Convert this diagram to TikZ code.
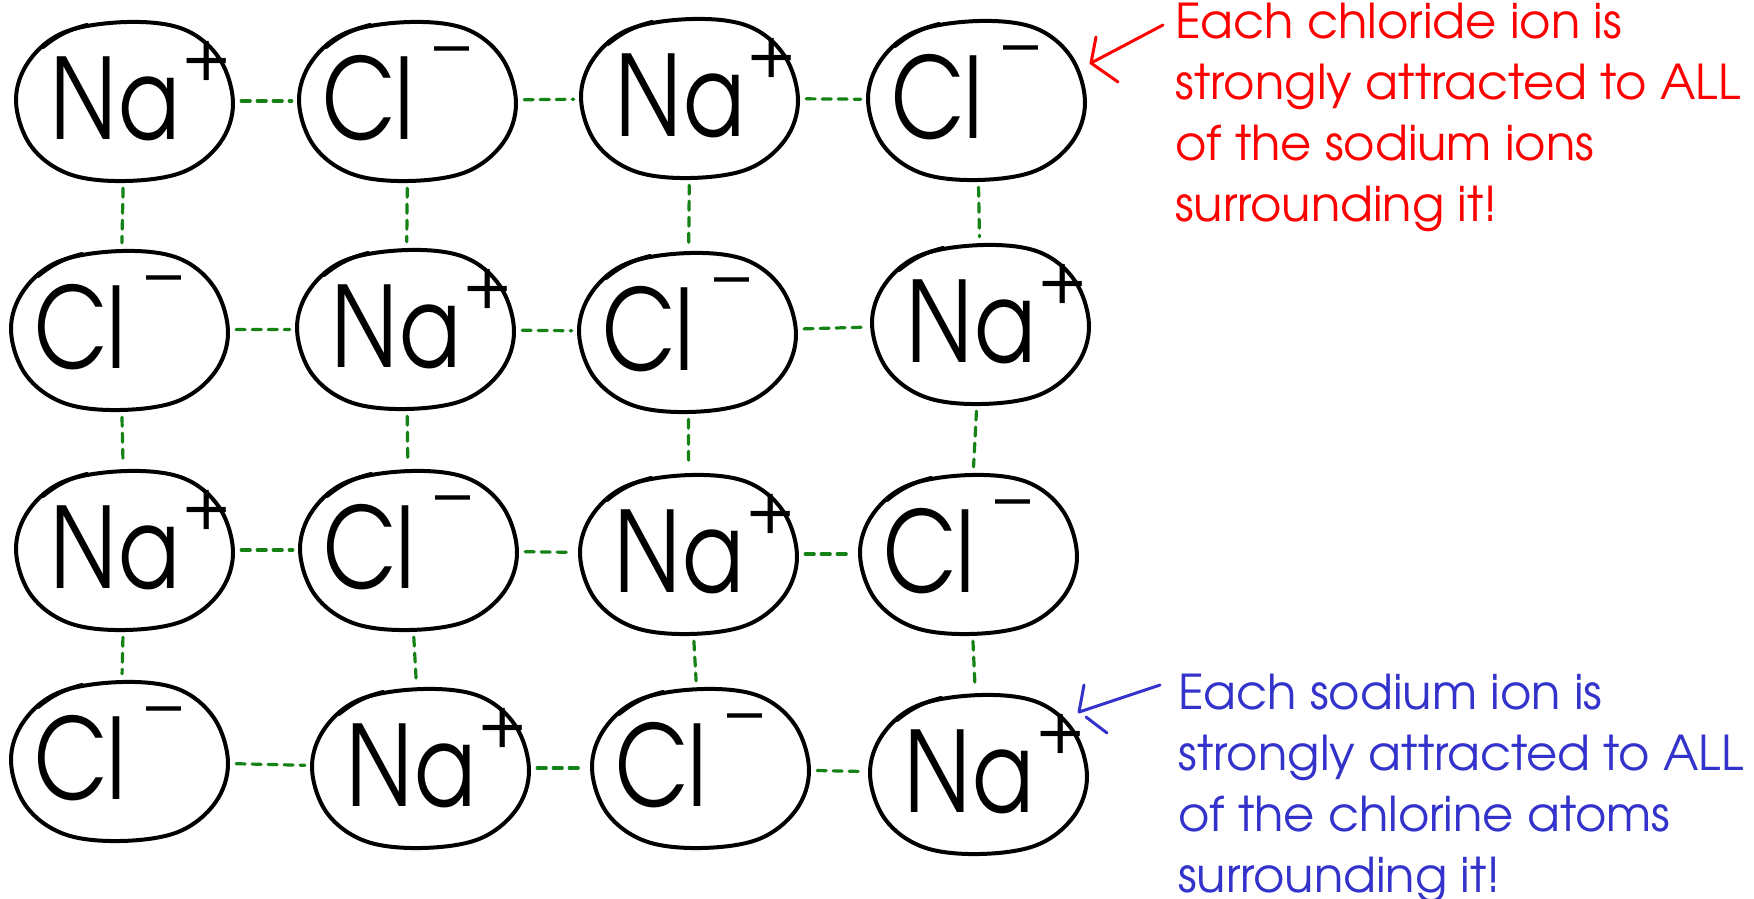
\documentclass[tikz,border=0pt]{standalone}
\usepackage{graphicx}
\usepackage{fontspec}
\usetikzlibrary{shapes.geometric,calc}
\newfontfamily\adv{TeX Gyre Adventor}
\definecolor{bondgreen}{RGB}{20,130,20}
\definecolor{noteblue}{RGB}{51,51,204}
\definecolor{notered}{RGB}{255,0,0}
\tikzset{
 ion/.style={ellipse, draw=none, minimum width=218pt, minimum height=160pt, inner sep=0pt},
 blob/.style={draw=black, line width=4pt, line join=round},
 sym/.style={font=\adv\fontsize{112}{112}\selectfont, inner sep=0pt},
 chg/.style={font=\adv\fontsize{70}{70}\selectfont, inner sep=0pt},
 bond/.style={draw=bondgreen, line width=3.2pt, dash pattern=on 9pt off 7pt, line cap=round, shorten >=7pt, shorten <=7pt},
 note/.style={font=\adv\fontsize{48}{61}\selectfont, align=left, anchor=north west, inner sep=0pt},
 hook/.style={line width=4pt, line cap=round},
 pointer/.style={line width=3pt, line cap=round, line join=round},
}
\newcommand\blobat[1]{%
  \draw[blob, shift={(#1.center)}] plot[smooth cycle, tension=0.6] coordinates
   {(108,2) (95,42) (58,71) (0,80) (-56,73) (-94,45) (-109,0) (-96,-40) (-60,-69) (2,-79) (58,-72) (94,-43)};
  \draw[hook, shift={(#1.center)}] (-82,-54) to[bend left=12] (-38,-76);}
\newcommand\naion[3]{%
  \node[ion] (#1) at (#2,#3) {};
  \blobat{#1}
  \node[sym] (#1n) at ($(#1)+(-10,-2)$) {\scalebox{0.8}[1]{Na}};
  \node[chg] (#1p) at ($(#1)+(82,-40)$) {+};}
\newcommand\clion[3]{%
  \node[ion] (#1) at (#2,#3) {};
  \blobat{#1}
  \node[sym] (#1n) at ($(#1)+(-40,-3)$) {\scalebox{0.8}[1]{Cl}};
  \node[chg] (#1p) at ($(#1)+(44,-44)$) {–};}
\begin{document}
\begin{tikzpicture}[x=1pt,y=-1pt]
\fill[white] (0,0) rectangle (1754,898);
\useasboundingbox (0,0) rectangle (1754,898);
% row 1
\naion{n11}{125}{101}
\clion{n12}{408}{101}
\naion{n13}{690}{98}
\clion{n14}{977}{100}
% row 2
\clion{n21}{120}{330}
\naion{n22}{406}{329}
\clion{n23}{688}{332}
\naion{n24}{981}{324}
% row 3
\naion{n31}{125}{550}
\clion{n32}{409}{550}
\naion{n33}{689}{554}
\clion{n34}{969}{554}
% row 4
\clion{n41}{120}{761}
\naion{n42}{421}{768}
\clion{n43}{701}{768}
\naion{n44}{979}{774}
% horizontal bonds
\foreach \r in {1,2,3,4}{
  \draw[bond] (n\r1) -- (n\r2);
  \draw[bond] (n\r2) -- (n\r3);
  \draw[bond] (n\r3) -- (n\r4);}
% vertical bonds
\foreach \c in {1,2,3,4}{
  \draw[bond] (n1\c) -- (n2\c);
  \draw[bond] (n2\c) -- (n3\c);
  \draw[bond] (n3\c) -- (n4\c);}
% red annotation
\coordinate (rs) at (1163,25);
\coordinate (rt) at (1091,63);
\coordinate (rb1) at (1096,37);
\coordinate (rb2) at (1118,82);
\draw[pointer, draw=notered] (rs) -- (rt);
\draw[pointer, draw=notered] (rb1) -- (rt) -- (rb2);
\node[note, text=notered] (rednote) at (1175,3) {Each chloride ion is\\strongly attracted to ALL\\of the sodium ions\\surrounding it!};
% blue annotation
\coordinate (bs) at (1160,685);
\coordinate (bt) at (1079,712);
\coordinate (bb1) at (1084,685);
\coordinate (bb2a) at (1086,717);
\coordinate (bb2b) at (1107,733);
\draw[pointer, draw=noteblue] (bs) -- (bt) -- (bb1);
\draw[pointer, draw=noteblue] (bb2a) -- (bb2b);
\node[note, text=noteblue] (bluenote) at (1178,674) {Each sodium ion is\\strongly attracted to ALL\\of the chlorine atoms\\surrounding it!};
\end{tikzpicture}
\end{document}
